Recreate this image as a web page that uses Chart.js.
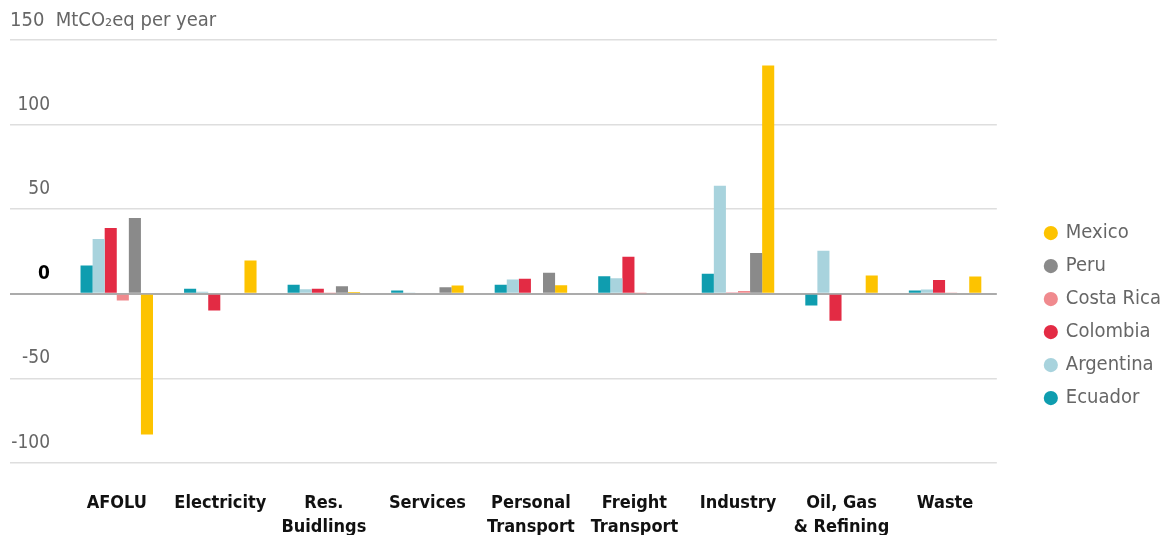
<!DOCTYPE html>
<html>
<head>
<meta charset="utf-8">
<script src="https://cdn.jsdelivr.net/npm/chart.js@4/dist/chart.umd.min.js"></script>
<style>
  body { margin: 0; background: #fff; }
  #wrap { width: 1171px; height: 535px; }
</style>
</head>
<body>
<div id="wrap"><canvas id="barChart"></canvas></div>
<script>
const sectors = [
    ['AFOLU'], ['Electricity'], ['Res.', 'Buidlings'], ['Services'],
    ['Personal', 'Transport'], ['Freight', 'Transport'], ['Industry'],
    ['Oil, Gas', '& Refining'], ['Waste']
];

const ecuador   = [16.7, 3.0, 5.4, 2.0, 5.3, 10.4, 11.8, -6.9, 2.0];
const argentina = [32.4, 1.2, 2.7, 0.5, 8.5, 9.2, 63.9, 25.4, 2.5];
const colombia  = [38.9, -9.9, 3.0, 0.6, 8.9, 21.9, 0.5, -16.0, 8.1];
const costaRica = [-4.0, 0, 0.3, 0, 0, 0.3, 1.6, 0, 0.5];
const peru      = [44.8, 0, 4.5, 3.9, 12.4, 0, 24.1, 0, 0];
const mexico    = [-83.2, 19.7, 1.0, 4.9, 5.1, 0, 134.9, 10.8, 10.2];

const yTicks = [-100, -50, 0, 50, 100, 150];
const unitLabel = '150  MtCO₂eq per year';

const fontFamily = "'Liberation Sans Narrow', 'DejaVu Sans Condensed', 'Roboto', sans-serif";

const barData = {
    labels: sectors,
    datasets: [
        { label: 'Ecuador',    data: ecuador,   backgroundColor: '#0F9DAF' },
        { label: 'Argentina',  data: argentina, backgroundColor: '#A8D3DD' },
        { label: 'Colombia',   data: colombia,  backgroundColor: '#E32B44' },
        { label: 'Costa Rica', data: costaRica, backgroundColor: '#F08A8E' },
        { label: 'Peru',       data: peru,      backgroundColor: '#8A8A8A' },
        { label: 'Mexico',     data: mexico,    backgroundColor: '#FDC300' }
    ]
};

const barConfig = {
    type: 'bar',
    data: barData,
    options: {
        responsive: true,
        maintainAspectRatio: false,
        animation: false,
        categoryPercentage: 0.7,
        barPercentage: 1.0,
        layout: {
            padding: { left: 10, right: 0, top: 0, bottom: 0 }
        },
        scales: {
            x: {
                grid: { display: false, drawTicks: false },
                border: { display: false },
                ticks: {
                    color: '#111',
                    padding: 28,
                    maxRotation: 0,
                    autoSkip: false,
                    font: { family: fontFamily, size: 18, weight: 'bold', lineHeight: 1.35 }
                },
                afterFit: (scale) => { scale.height = 72; }
            },
            y: {
                min: yTicks[0],
                max: yTicks[yTicks.length - 1],
                afterBuildTicks: (scale) => { scale.ticks = yTicks.map(v => ({ value: v })); },
                grid: {
                    color: (ctx) => ctx.tick && ctx.tick.value === 0 ? '#ababab' : '#dedede',
                    lineWidth: (ctx) => ctx.tick && ctx.tick.value === 0 ? 2 : 1.5,
                    tickLength: 55
                },
                border: { display: false },
                ticks: {
                    padding: -40,
                    labelOffset: -20,
                    color: (ctx) => ctx.tick && ctx.tick.value === 0 ? '#000' : '#666',
                    font: (ctx) => ({
                        family: fontFamily,
                        size: 19,
                        weight: ctx.tick && ctx.tick.value === 0 ? 'bold' : 'normal'
                    }),
                    callback: (value) => value === 150 ? '' : value
                },
                afterFit: (scale) => { scale.width = 55; }
            },
            yPad: {
                type: 'linear',
                position: 'right',
                display: true,
                grid: { display: false, drawTicks: false },
                border: { display: false },
                ticks: { display: false },
                afterFit: (scale) => { scale.width = 36; }
            }
        },
        plugins: {
            title: {
                display: true,
                text: unitLabel,
                align: 'start',
                color: '#666',
                font: { family: fontFamily, size: 20, weight: 'normal' },
                padding: { top: 9, bottom: 7 }
            },
            legend: {
                position: 'right',
                reverse: true,
                title: {
                    display: true,
                    text: ' ',
                    font: { size: 1 },
                    padding: { top: 0, bottom: 95 }
                },
                labels: {
                    usePointStyle: true,
                    pointStyle: 'circle',
                    boxWidth: 10,
                    boxHeight: 10,
                    padding: 13,
                    color: '#666',
                    font: { family: fontFamily, size: 20 }
                }
            },
            tooltip: { enabled: false }
        }
    }
};

const barCanvas = document.getElementById('barChart');

// Create the chart on the canvas
const barChart = new Chart(barCanvas, barConfig);
</script>
</body>
</html>
